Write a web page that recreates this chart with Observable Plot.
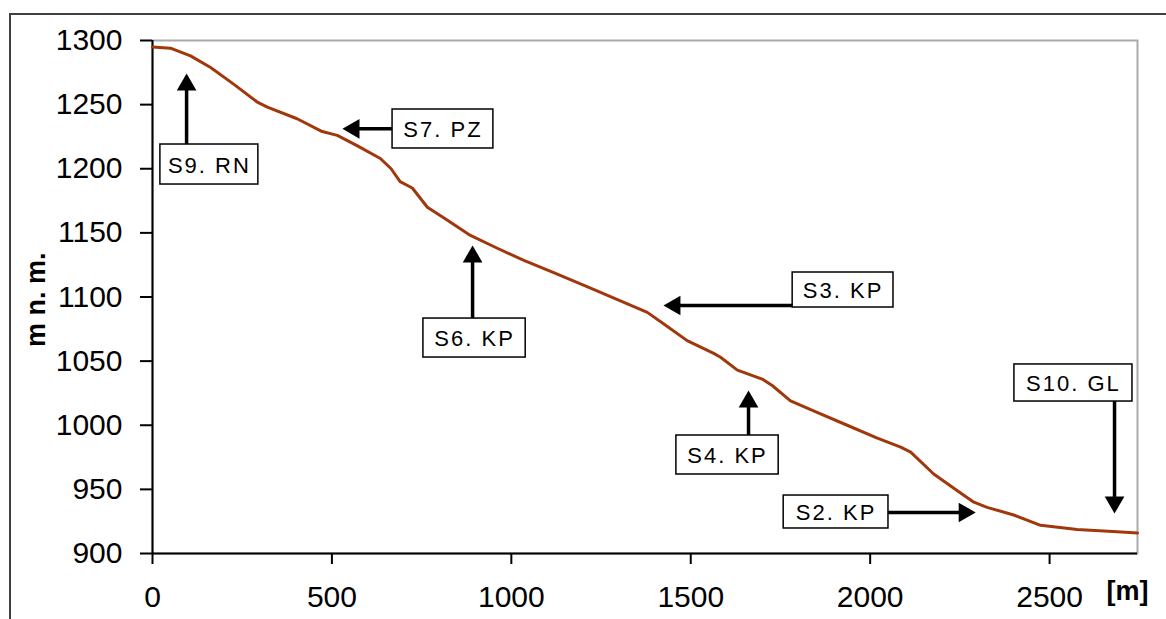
<!DOCTYPE html>
<html>
<head>
<meta charset="utf-8">
<script src="https://cdn.jsdelivr.net/npm/d3@7"></script>
<script src="https://cdn.jsdelivr.net/npm/@observablehq/plot@0.6"></script>
<style>
  html, body { margin: 0; padding: 0; background: #fff; }
  #wrap { position: relative; width: 1166px; height: 619px; overflow: hidden; }
  #outer { position: absolute; left: 9px; top: 13px; right: -10px; bottom: -10px;
           border-left: 2px solid #404040; border-top: 2px solid #404040; pointer-events: none; }
</style>
</head>
<body>
<div id="wrap"><div id="outer"></div></div>
<script>
// Profile: distance along slope [m] and elevation [m n. m.]
const distance = [0, 50, 106, 162, 226, 292, 320, 403, 473, 515, 570, 635, 665, 690, 724, 766, 821, 886, 961, 1035, 1118, 1211, 1304, 1379, 1425, 1490, 1564, 1583, 1630, 1699, 1727, 1778, 1852, 1936, 2020, 2085, 2113, 2177, 2243, 2289, 2326, 2400, 2475, 2577, 2688, 2745];
const elevation = [1295, 1294, 1288, 1279, 1266, 1252, 1248, 1239, 1229, 1226, 1218, 1208, 1200, 1190, 1185, 1170, 1160, 1148, 1138, 1128.5, 1119, 1108, 1097, 1088, 1079, 1066, 1056, 1053, 1043, 1036, 1031, 1019, 1010, 1000, 990, 983, 979, 962, 949, 940, 936, 930, 922, 918.7, 917, 916];

const xTicks = [0, 500, 1000, 1500, 2000, 2500];
const yTicks = [900, 950, 1000, 1050, 1100, 1150, 1200, 1250, 1300];

// Annotations (site labels) in data units
const labels   = ["S9. RN", "S7. PZ", "S6. KP", "S3. KP", "S4. KP", "S2. KP", "S10. GL"];
const boxX1    = [22, 669, 755, 1784, 1460, 1759, 2402];
const boxX2    = [295, 950, 1040, 2065, 1745, 2051, 2731];
const boxYTop  = [1218.9, 1246.2, 1083.2, 1119.1, 992, 945.2, 1047.4];
const boxYBot  = [1187.7, 1215.8, 1052.8, 1091.8, 961.6, 919.5, 1018.5];
const arrowX1  = [95, 669, 892, 1784, 1661, 2051, 2681];
const arrowY1  = [1218.9, 1231.1, 1083.2, 1093.4, 992, 932, 1018.5];
const arrowX2  = [95, 529.5, 892, 1424, 1661, 2294, 2681];
const arrowY2  = [1274.3, 1231.1, 1140.2, 1093.4, 1027.1, 932, 931.2];
const arrowDir = ["up", "left", "up", "left", "up", "right", "down"];

const profile = distance.map((d, i) => ({d, e: elevation[i]}));
const notes = labels.map((label, i) => ({
  label, x1: boxX1[i], x2: boxX2[i], y1: boxYTop[i], y2: boxYBot[i],
  cx: (boxX1[i] + boxX2[i]) / 2, cy: (boxYTop[i] + boxYBot[i]) / 2,
  ax1: arrowX1[i], ay1: arrowY1[i], ax2: arrowX2[i], ay2: arrowY2[i], dir: arrowDir[i]
}));

const headR = 7.3, tipOff = 11.3;
const rot = {up: 0, right: 90, down: 180, left: 270};
const off = {up: [0, tipOff], down: [0, -tipOff], left: [tipOff, 0], right: [-tipOff, 0]};
const heads = Object.keys(rot).map(dir => Plot.dot(notes.filter(n => n.dir === dir), {
  x: "ax2", y: "ay2", symbol: "triangle", r: headR, fill: "black", stroke: "none",
  rotate: rot[dir], dx: off[dir][0], dy: off[dir][1]
}));

const chart = Plot.plot({
  width: 1166,
  height: 619,
  marginLeft: 152,
  marginRight: 29,
  marginTop: 40,
  marginBottom: 66,
  style: {fontFamily: "'Liberation Sans', Arial, sans-serif", background: "transparent", color: "black"},
  x: {domain: [0, 2745]},
  y: {domain: [900, 1300]},
  marks: [
    Plot.frame({stroke: "#aaaaaa", strokeWidth: 2}),
    Plot.axisY({ticks: yTicks, tickSize: 12, tickPadding: 18, fontSize: 30, strokeWidth: 2, label: null, tickFormat: d => String(d)}),
    Plot.axisX({ticks: xTicks, tickSize: 11, tickPadding: 21, fontSize: 30, strokeWidth: 2, label: null, tickFormat: d => String(d)}),
    Plot.ruleX([0], {stroke: "black", strokeWidth: 2}),
    Plot.ruleY([900], {stroke: "black", strokeWidth: 2}),
    Plot.line(profile, {x: "d", y: "e", stroke: "#a0380c", strokeWidth: 3}),
    Plot.arrow(notes, {x1: "ax1", y1: "ay1", x2: "ax2", y2: "ay2", stroke: "black", strokeWidth: 3.5, headLength: 0, insetEnd: 12}),
    ...heads,
    Plot.rect(notes, {x1: "x1", x2: "x2", y1: "y1", y2: "y2", fill: "white", stroke: "black", strokeWidth: 1.5}),
    Plot.text(notes, {x: "cx", y: "cy", text: "label", fontSize: 22, fill: "black", dy: 1}),
    Plot.text(["m n. m."], {frameAnchor: "left", rotate: -90, dx: -116, dy: 50, fontSize: 27, fontWeight: "bold", fill: "black"}),
    Plot.text(["[m]"], {frameAnchor: "bottom-right", textAnchor: "end", dx: 11, dy: 46, fontSize: 27, fontWeight: "bold", fill: "black"})
  ]
});

const textGroups = d3.select(chart).selectAll("g[aria-label='text']").nodes();
if (textGroups.length) d3.select(textGroups[0]).selectAll("text").attr("letter-spacing", "2px");

document.getElementById("wrap").appendChild(chart);
</script>
</body>
</html>
